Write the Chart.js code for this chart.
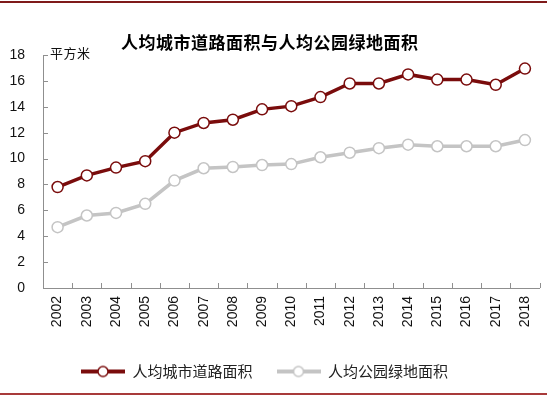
<!DOCTYPE html>
<html>
<head>
<meta charset="utf-8">
<script src="https://cdn.jsdelivr.net/npm/chart.js@4/dist/chart.umd.min.js"></script>
<style>
  body { margin: 0; background: #fff; }
  #wrap { position: relative; width: 550px; height: 397px; overflow: hidden; }
  #myChart { position: absolute; left: 0; top: 0; }
  .rule { position: absolute; left: 0; width: 547px; }
  #title {
    position: absolute; left: 121px; top: 31px; white-space: nowrap;
    font-family: "Noto Sans CJK SC", sans-serif; font-weight: bold;
    font-size: 17px; letter-spacing: 0.5px; color: #000; line-height: 22px;
  }
  #unit {
    position: absolute; left: 50px; top: 44px; white-space: nowrap;
    font-family: "Noto Sans CJK SC", sans-serif; font-size: 13px;
    letter-spacing: 0.5px; color: #111; line-height: 18px;
  }
</style>
</head>
<body>
<div id="wrap">
  <canvas id="myChart" width="550" height="397"></canvas>
  <div class="rule" style="top:1px;height:2px;background:#7f1a1a;"></div>
  <div class="rule" style="top:393px;height:2px;background:#a83a3a;"></div>
  <div id="title">人均城市道路面积与人均公园绿地面积</div>
  <div id="unit">平方米</div>
</div>
<script>
// Categories and series
const years = ["2002", "2003", "2004", "2005", "2006", "2007", "2008", "2009", "2010",
  "2011", "2012", "2013", "2014", "2015", "2016", "2017", "2018"];
const roadArea = [7.8, 8.7, 9.3, 9.8, 12.0, 12.75, 13.0, 13.8, 14.05,
  14.75, 15.8, 15.8, 16.5, 16.1, 16.1, 15.7, 16.95];
const parkArea = [4.7, 5.6, 5.8, 6.5, 8.3, 9.25, 9.35, 9.5, 9.57,
  10.1, 10.45, 10.8, 11.07, 10.95, 10.95, 10.95, 11.43];
const seriesNames = ["人均城市道路面积", "人均公园绿地面积"];
const yTicks = [0, 2, 4, 6, 8, 10, 12, 14, 16, 18];

const roadColor = "#7a0c0c";
const parkColor = "#c4c4c4";
const axisColor = "#8f8f8f";

// little legend sample: a thick line with an open circle in the middle
const legendMark = (color) => {
  const c = document.createElement("canvas");
  c.width = 44;
  c.height = 14;
  const g = c.getContext("2d");
  g.strokeStyle = color;
  g.lineWidth = 4;
  g.beginPath();
  g.moveTo(0, 7);
  g.lineTo(44, 7);
  g.stroke();
  g.fillStyle = "#fff";
  g.lineWidth = 1.5;
  g.beginPath();
  g.arc(22, 7, 5, 0, Math.PI * 2);
  g.fill();
  g.stroke();
  return c;
};

// ticks drawn inward, like the original
const innerTicks = {
  id: "innerTicks",
  beforeDatasetsDraw(chart) {
    const ctx = chart.ctx;
    const x = chart.scales.x;
    const y = chart.scales.y;
    ctx.save();
    ctx.strokeStyle = axisColor;
    ctx.lineWidth = 1;
    ctx.beginPath();
    yTicks.forEach((v) => {
      const py = Math.round(y.getPixelForValue(v)) + 0.5;
      ctx.moveTo(x.left, py);
      ctx.lineTo(x.left + 5, py);
    });
    const step = x.getPixelForValue(1) - x.getPixelForValue(0);
    for (let i = 0; i <= years.length; i++) {
      const px = Math.round(x.getPixelForValue(0) - step / 2 + i * step) + 0.5;
      ctx.moveTo(px, y.bottom);
      ctx.lineTo(px, y.bottom - 5);
    }
    ctx.stroke();
    ctx.restore();
  },
  afterLayout(chart) {
    // nudge legend a bit left to sit where the original has it
    chart.legend.left -= 6;
    chart.legend.right -= 6;
  },
};

const ctx = document.getElementById("myChart").getContext("2d");
const myChart = new Chart(ctx, {
  type: "line",
  data: {
    labels: years,
    datasets: [
      {
        label: seriesNames[0],
        data: roadArea,
        borderColor: roadColor,
        borderWidth: 3.5,
        pointRadius: 5.5,
        pointBorderWidth: 1.5,
        pointBackgroundColor: "#fff",
        pointBorderColor: roadColor,
        tension: 0,
      },
      {
        label: seriesNames[1],
        data: parkArea,
        borderColor: parkColor,
        borderWidth: 3.5,
        pointRadius: 5.5,
        pointBorderWidth: 1.5,
        pointBackgroundColor: "#fff",
        pointBorderColor: parkColor,
        tension: 0,
      },
    ],
  },
  options: {
    responsive: false,
    animation: false,
    layout: { padding: { left: 0, right: 9, top: 55, bottom: 8 } },
    plugins: {
      title: { display: false },
      tooltip: { enabled: false },
      legend: {
        position: "bottom",
        labels: {
          usePointStyle: true,
          pointStyleWidth: 44,
          boxHeight: 14,
          padding: 24,
          color: "#222",
          font: { family: "'Noto Sans CJK SC', sans-serif", size: 15 },
          generateLabels: (chart) =>
            chart.data.datasets.map((ds, i) => ({
              text: ds.label,
              pointStyle: legendMark(ds.borderColor),
              fillStyle: ds.borderColor,
              strokeStyle: ds.borderColor,
              lineWidth: 0,
              fontColor: "#222",
              datasetIndex: i,
            })),
        },
      },
    },
    scales: {
      x: {
        offset: true,
        grid: { display: false, drawTicks: false },
        border: { color: axisColor, width: 1 },
        ticks: {
          minRotation: 90,
          maxRotation: 90,
          padding: 8,
          color: "#111",
          font: { family: "'Liberation Sans', sans-serif", size: 14 },
        },
        afterFit: (scale) => { scale.height = 52; },
      },
      y: {
        min: 0,
        max: 18,
        grid: { display: false, drawTicks: false },
        border: { color: axisColor, width: 1 },
        ticks: {
          stepSize: 2,
          padding: 18,
          color: "#111",
          font: { family: "'Liberation Sans', sans-serif", size: 14 },
        },
        afterFit: (scale) => { scale.width = 43; },
      },
    },
  },
  plugins: [innerTicks],
});
</script>
</body>
</html>
